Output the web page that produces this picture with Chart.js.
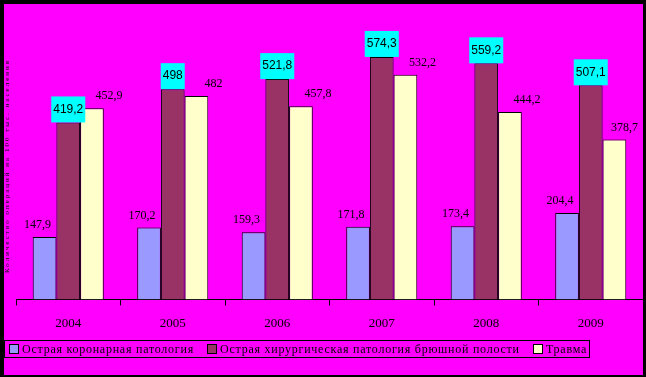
<!DOCTYPE html>
<html>
<head>
<meta charset="utf-8">
<script src="https://cdn.jsdelivr.net/npm/chart.js@4"></script>
<style>
  body { margin: 0; }
  #frame {
    position: relative; width: 646px; height: 377px; box-sizing: border-box;
    background: #ff00ff; border-style: solid; border-color: #000;
    border-width: 4px 3px 2px 4px;
  }
  #myChart { position: absolute; left: 0; top: 0; }
  #legend {
    position: absolute; left: 0; top: 336px; width: 584px; height: 16px;
    border: 1px solid #000; font: 12px "Liberation Serif", serif; letter-spacing: 0.75px;
    color: #000; white-space: nowrap;
  }
  #legend span.item { position: absolute; top: 1px; line-height: 14px; }
  #legend i { display: inline-block; width: 8px; height: 8px; border: 1px solid #000; margin-right: 3px; vertical-align: -1px; }
</style>
</head>
<body>
<div id="frame">
  <canvas id="myChart" width="639" height="371"></canvas>
  <div id="legend"></div>
</div>
<script>
const years = ['2004', '2005', '2006', '2007', '2008', '2009'];
const coronary = [147.9, 170.2, 159.3, 171.8, 173.4, 204.4];
const surgical = [419.2, 498, 521.8, 574.3, 559.2, 507.1];
const trauma = [452.9, 482, 457.8, 532.2, 444.2, 378.7];
const seriesNames = ['Острая коронарная патология', 'Острая хирургическая патология брюшной полости', 'Травма'];
const seriesColors = ['#9999ff', '#993366', '#ffffcc'];
const yTitle = 'Количество операций на 100 тыс. населения';

const fmt = v => String(v).replace('.', ',');

// html legend built from series names/colours
const legendX = [4, 202, 528];
const lg = document.getElementById('legend');
seriesNames.forEach((n, i) => {
	const s = document.createElement('span');
	s.className = 'item';
	s.style.left = legendX[i] + 'px';
	s.innerHTML = '<i style="background:' + seriesColors[i] + '"></i>' + n;
	lg.appendChild(s);
});

const labelPlugin = {
	id: 'valueLabels',
	afterDatasetsDraw(chart) {
		const c = chart.ctx;
		c.save();
		chart.data.datasets.forEach((ds, di) => {
			chart.getDatasetMeta(di).data.forEach((bar, i) => {
				const txt = fmt(ds.data[i]);
				if (di === 1) {
					c.font = '12px "Liberation Sans", sans-serif';
					const w = c.measureText(txt).width + 4;
					c.fillStyle = '#00ffff';
					c.fillRect(bar.x - w / 2, bar.y - 26, w, 26);
					c.fillStyle = '#000';
					c.textAlign = 'center';
					c.textBaseline = 'middle';
					c.fillText(txt, bar.x, bar.y - 13);
				} else {
					c.font = '12px "Liberation Serif", serif';
					c.fillStyle = '#000';
					c.textAlign = 'center';
					c.textBaseline = 'middle';
					const dx = di === 0 ? -7 : 17;
					const w = c.measureText(txt).width;
					// keep label inside the plot on the right side
					const x = Math.min(bar.x + dx, chart.chartArea.right - 5 - w / 2);
					c.fillText(txt, x, bar.y - 12);
				}
			});
		});
		// rotated axis title
		c.translate(3, 162);
		c.rotate(-Math.PI / 2);
		c.font = '7px "Liberation Serif", serif';
		c.letterSpacing = '2px';
		c.fillStyle = '#000';
		c.textAlign = 'center';
		c.textBaseline = 'middle';
		c.fillText(yTitle, 0, 0);
		c.restore();
	}
};

const ctx = document.getElementById('myChart');

new Chart(ctx, {
	type: 'bar',
	data: {
		labels: years,
		datasets: [coronary, surgical, trauma].map((d, i) => ({
			label: seriesNames[i],
			data: d,
			backgroundColor: seriesColors[i],
			borderColor: '#000',
			borderWidth: 1,
			categoryPercentage: 0.68,
			barPercentage: 1
		}))
	},
	options: {
		responsive: false,
		animation: false,
		devicePixelRatio: 1,
		layout: { padding: { left: 12, right: 0, top: 21, bottom: 34 } },
		plugins: {
			legend: { display: false },
			tooltip: { enabled: false }
		},
		scales: {
			x: {
				grid: { drawOnChartArea: false, tickLength: 6, color: '#000' },
				border: { color: '#000', width: 1 },
				ticks: { color: '#000', font: { family: 'Liberation Serif', size: 13 }, padding: 10 }
			},
			y: {
				display: false,
				min: 0,
				max: 650
			}
		}
	},
	plugins: [labelPlugin]
});
</script>
</body>
</html>
